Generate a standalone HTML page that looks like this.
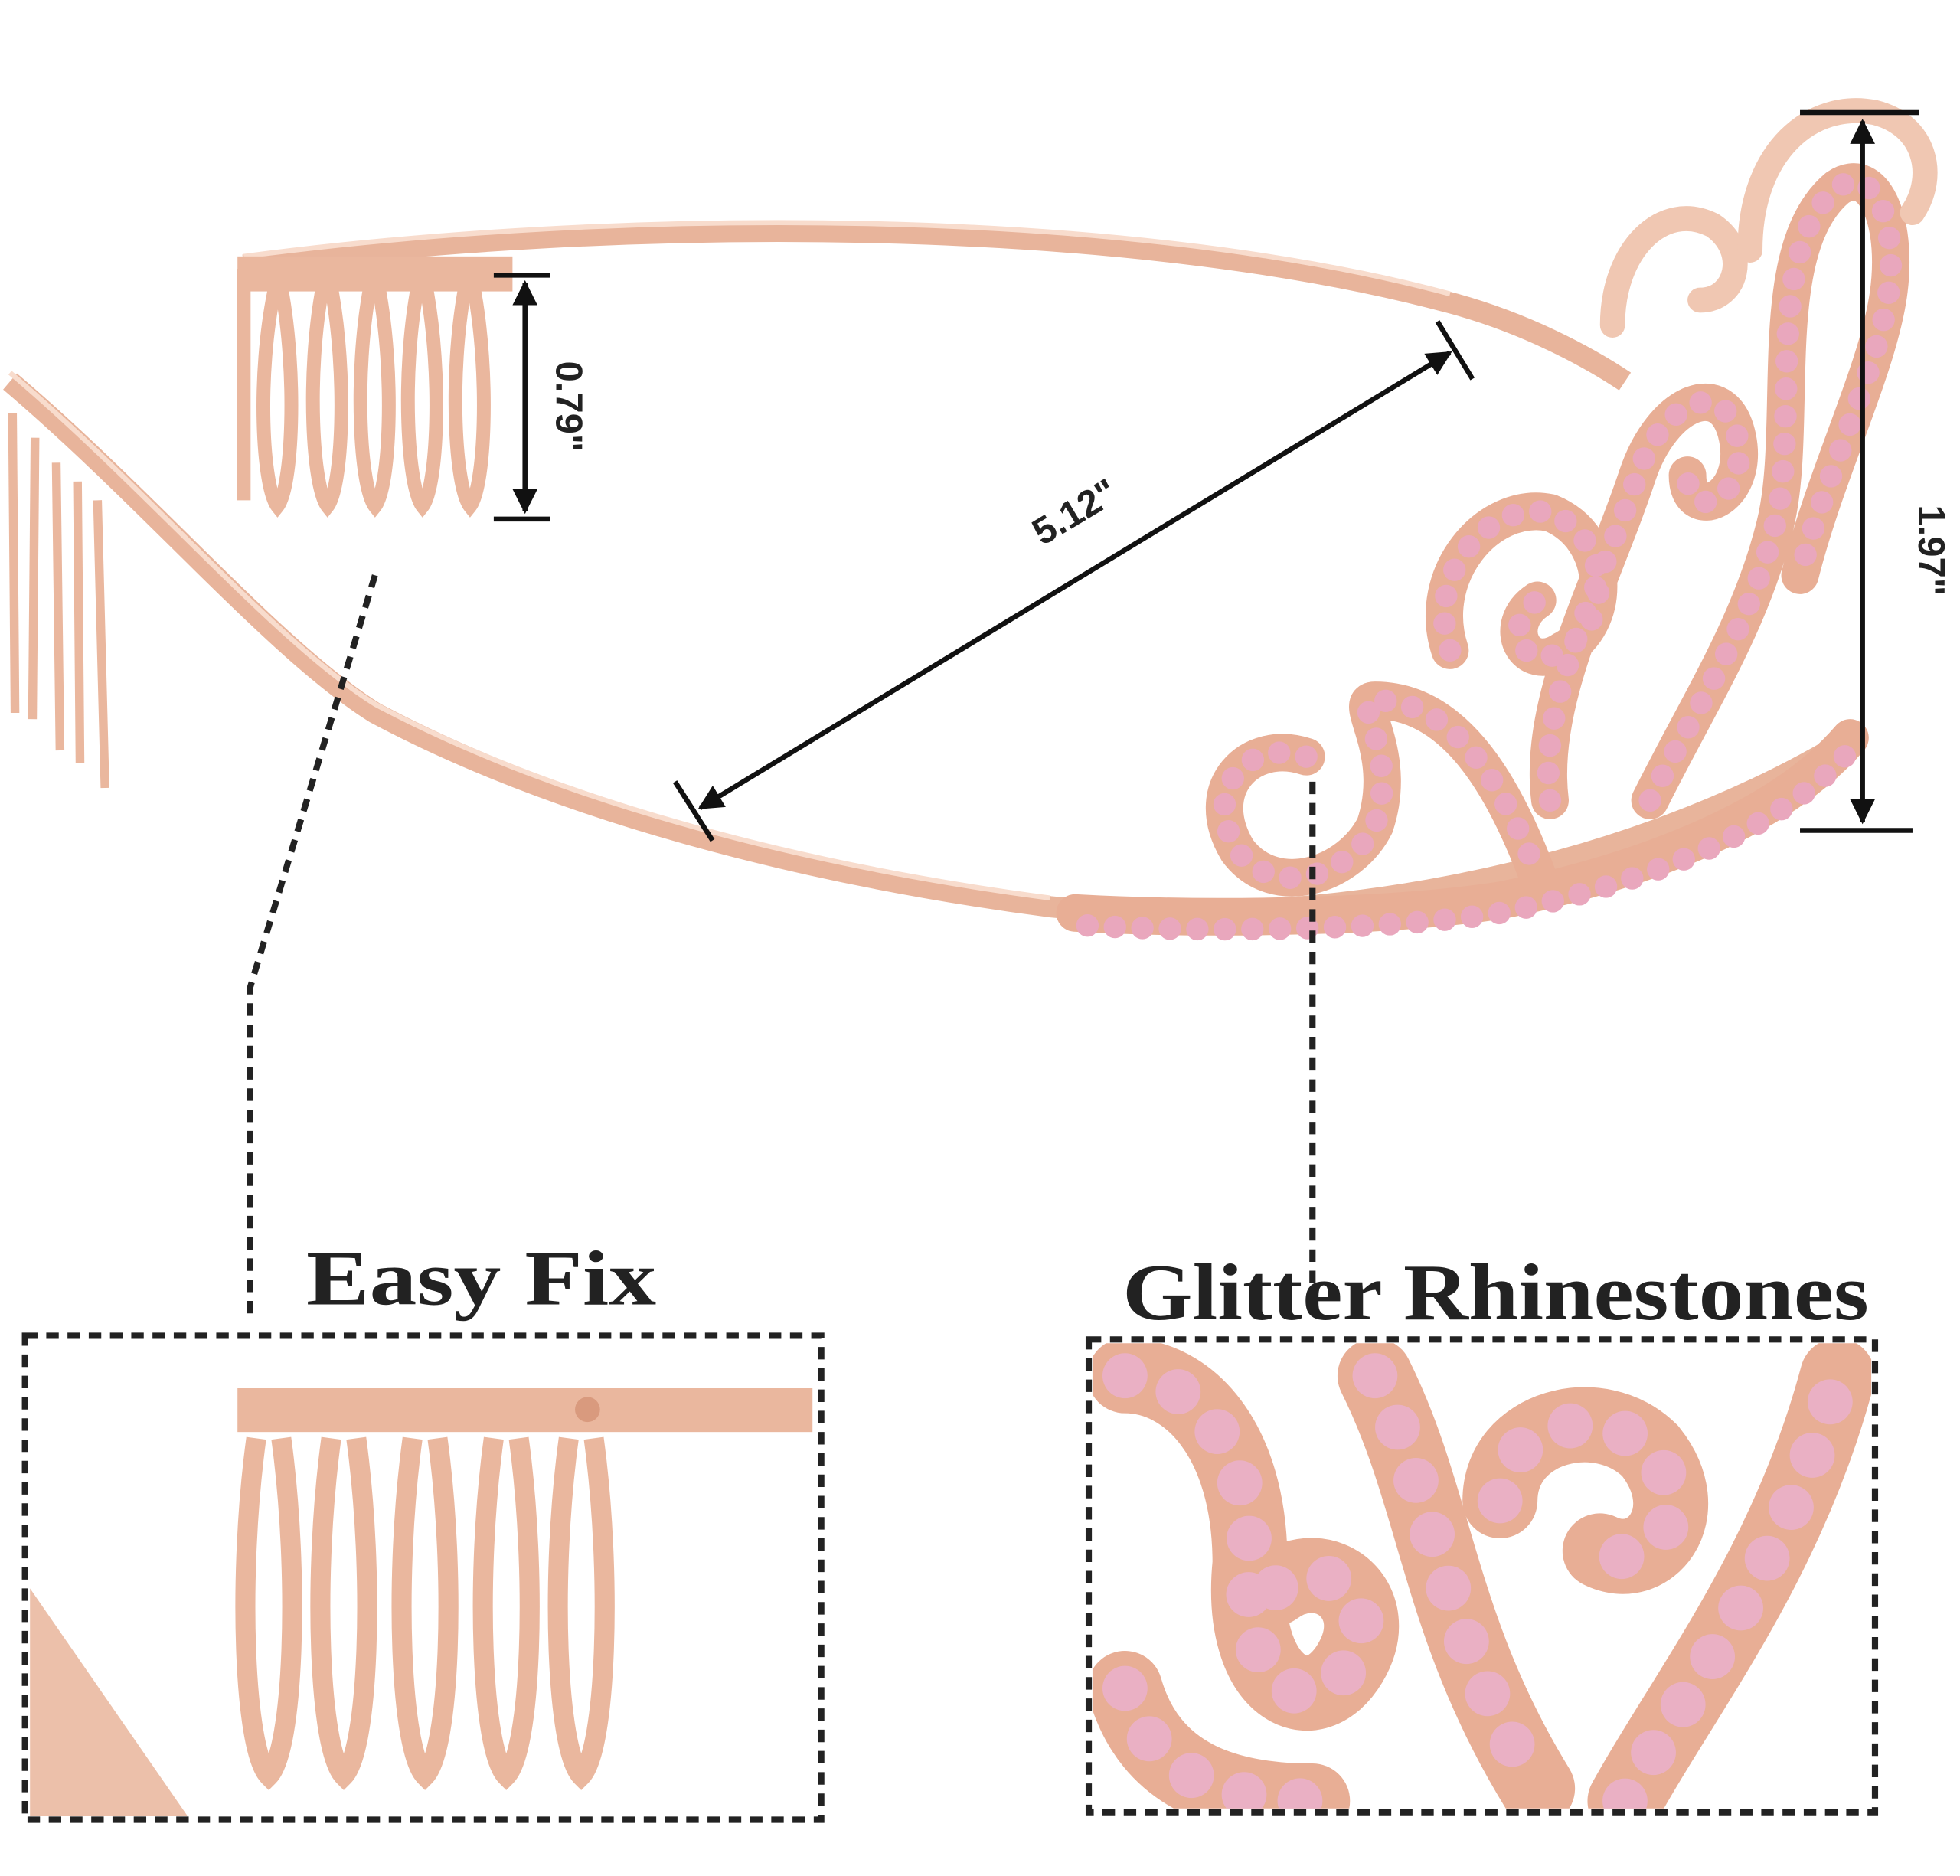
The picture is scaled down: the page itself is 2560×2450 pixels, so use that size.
<!DOCTYPE html>
<html><head><meta charset="utf-8"><style>
html,body{margin:0;padding:0;background:#fff;}
svg{display:block;}
</style></head><body>
<svg width="2560" height="2450" viewBox="0 0 1568 1500" preserveAspectRatio="none" xmlns="http://www.w3.org/2000/svg">
<defs>
<marker id="ah" viewBox="0 0 10 10" refX="9" refY="5" markerWidth="5" markerHeight="5" orient="auto-start-reverse">
<path d="M0,0 L10,5 L0,10 z" fill="#111"/>
</marker>
<clipPath id="cb2"><rect x="874" y="1074" width="623" height="372"/></clipPath>
</defs>
<rect width="1568" height="1500" fill="#fff"/>

<!-- upper band -->
<path d="M195,212 C500,172 900,172 1160,242 C1220,258 1270,285 1300,305" fill="none" stroke="#e8b49b" stroke-width="17"/>
<path d="M195,205 C500,165 900,165 1160,235" fill="none" stroke="#f8dccd" stroke-width="4"/>
<!-- upper comb -->
<g fill="none" stroke="#eab79e" stroke-width="11">
<path d="M195,215 L195,400"/>
<path d="M220,230 C205,300 210,390 222,405 C234,390 238,300 225,230"/>
<path d="M258,230 C245,300 250,390 262,405 C274,390 278,300 265,230"/>
<path d="M296,230 C283,300 288,390 300,405 C312,390 316,300 303,230"/>
<path d="M334,230 C321,300 326,390 338,405 C350,390 354,300 341,230"/>
<path d="M372,230 C359,300 364,390 376,405 C388,390 392,300 379,230"/>
</g>
<rect x="190" y="205" width="220" height="28" fill="#eab79e"/>

<!-- lower band -->
<path d="M8,305 C120,400 220,520 300,570 C450,650 650,700 840,725 C1050,745 1300,700 1480,590" fill="none" stroke="#e8b49b" stroke-width="17"/>
<path d="M8,298 C120,393 220,513 300,563 C450,643 650,693 840,718" fill="none" stroke="#f8dccd" stroke-width="4"/>
<!-- left comb -->
<g fill="none" stroke="#eab79e" stroke-width="7">
<path d="M10,330 L12,570"/><path d="M28,350 L26,575"/><path d="M45,370 L48,600"/><path d="M62,385 L64,610"/><path d="M78,400 L84,630"/>
</g>

<!-- tiara swirls -->
<g fill="none" stroke="#e8ae95" stroke-width="30" stroke-linecap="round">
<path d="M860,730 C950,735 1100,735 1200,720 C1300,700 1420,660 1480,590"/>
<path d="M1045,605 C1000,590 960,630 990,680 C1020,720 1080,700 1100,660 C1120,600 1080,560 1100,560 C1160,560 1200,620 1230,700"/>
<path d="M1160,520 C1140,460 1190,400 1240,410 C1290,430 1290,500 1250,520 C1220,540 1200,500 1230,480"/>
<path d="M1240,640 C1230,560 1280,470 1310,380 C1330,320 1380,300 1390,350 C1400,400 1350,420 1350,380"/>
<path d="M1320,640 C1360,560 1400,500 1420,420 C1440,340 1410,200 1470,150 C1500,130 1520,180 1510,240 C1500,300 1460,380 1440,460"/>
<path d="M1290,260 C1290,200 1330,160 1370,180 C1400,200 1390,240 1360,240" stroke="#f0c7b2" stroke-width="20"/>
<path d="M1400,200 C1400,120 1450,80 1500,90 C1540,100 1550,140 1530,170" stroke="#f0c7b2" stroke-width="20"/>
</g>
<g fill="none" stroke="#e9a7bd" stroke-width="18" stroke-linecap="round" stroke-dasharray="0 22">
<path d="M870,740 C950,745 1100,745 1200,730 C1300,710 1420,670 1480,600"/>
<path d="M1045,605 C1000,590 960,630 990,680 C1020,720 1080,700 1100,660 C1120,600 1080,560 1100,560 C1160,560 1200,620 1230,700"/>
<path d="M1160,520 C1140,460 1190,400 1240,410 C1290,430 1290,500 1250,520 C1220,540 1200,500 1230,480"/>
<path d="M1240,640 C1230,560 1280,470 1310,380 C1330,320 1380,300 1390,350 C1400,400 1350,420 1350,380"/>
<path d="M1320,640 C1360,560 1400,500 1420,420 C1440,340 1410,200 1470,150 C1500,130 1520,180 1510,240 C1500,300 1460,380 1440,460"/>
</g>

<!-- dimension arrows -->
<g stroke="#111" stroke-width="4" fill="none">
<line x1="395" y1="220" x2="440" y2="220"/><line x1="395" y1="415" x2="440" y2="415"/>
<line x1="420" y1="226" x2="420" y2="409" marker-start="url(#ah)" marker-end="url(#ah)"/>
<line x1="1440" y1="90" x2="1535" y2="90"/><line x1="1440" y1="664" x2="1530" y2="664"/>
<line x1="1490" y1="97" x2="1490" y2="657" marker-start="url(#ah)" marker-end="url(#ah)"/>
<line x1="540" y1="625" x2="570" y2="672"/><line x1="1150" y1="257" x2="1178" y2="303"/>
<line x1="560" y1="646" x2="1160" y2="282" marker-start="url(#ah)" marker-end="url(#ah)"/>
</g>
<g font-family="Liberation Sans, sans-serif" font-weight="bold" fill="#222" font-size="30">
<text transform="translate(445,325) rotate(90)" text-anchor="middle">0.79"</text>
<text transform="translate(1535,440) rotate(90)" text-anchor="middle">1.97"</text>
<text transform="translate(865,418) rotate(-31)" text-anchor="middle">5.12"</text>
</g>

<!-- leaders -->
<g stroke="#222" stroke-width="5" stroke-dasharray="10 7" fill="none">
<path d="M300,460 L200,790 L200,1055"/>
<path d="M1050,625 L1050,1030"/>
</g>

<!-- box1 content -->
<rect x="190" y="1110" width="460" height="35" fill="#eab79e"/>
<circle cx="470" cy="1127" r="10" fill="#d99a7e"/>
<g fill="none" stroke="#eab79e" stroke-width="16">
<path d="M205,1150 C190,1260 195,1400 215,1420 C235,1400 240,1260 225,1150"/>
<path d="M265,1150 C250,1260 255,1400 275,1420 C295,1400 300,1260 285,1150"/>
<path d="M330,1150 C315,1260 320,1400 340,1420 C360,1400 365,1260 350,1150"/>
<path d="M395,1150 C380,1260 385,1400 405,1420 C425,1400 430,1260 415,1150"/>
<path d="M455,1150 C440,1260 445,1400 465,1420 C485,1400 490,1260 475,1150"/>
</g>
<path d="M24,1270 L150,1452 L24,1452 z" fill="#ecc0aa"/>

<!-- box2 content -->
<g clip-path="url(#cb2)">
<g fill="none" stroke="#e8ae95" stroke-width="60" stroke-linecap="round">
<path d="M900,1100 C950,1100 1000,1150 1000,1250 C990,1350 1050,1380 1080,1330 C1110,1280 1060,1240 1020,1270"/>
<path d="M1100,1100 C1150,1200 1150,1300 1230,1430"/>
<path d="M1200,1200 C1200,1140 1280,1120 1320,1160 C1360,1210 1320,1260 1280,1240"/>
<path d="M1300,1440 C1350,1350 1430,1250 1470,1100"/>
<path d="M900,1350 C920,1420 980,1440 1050,1440"/>
</g>
<g fill="none" stroke="#eab0c4" stroke-width="36" stroke-linecap="round" stroke-dasharray="0 45">
<path d="M900,1100 C950,1100 1000,1150 1000,1250 C990,1350 1050,1380 1080,1330 C1110,1280 1060,1240 1020,1270"/>
<path d="M1100,1100 C1150,1200 1150,1300 1230,1430"/>
<path d="M1200,1200 C1200,1140 1280,1120 1320,1160 C1360,1210 1320,1260 1280,1240"/>
<path d="M1300,1440 C1350,1350 1430,1250 1470,1100"/>
<path d="M900,1350 C920,1420 980,1440 1050,1440"/>
</g>
</g>
<g stroke="#222" stroke-width="5" stroke-dasharray="10 7" fill="none">
<rect x="20" y="1068" width="637" height="387"/>
<rect x="871" y="1071" width="629" height="378"/>
</g>

<!-- titles -->
<g font-family="Liberation Serif, serif" font-weight="bold" fill="#222">
<text x="245" y="1043" font-size="62" textLength="280" lengthAdjust="spacingAndGlyphs">Easy Fix</text>
<text x="898" y="1055" font-size="64" textLength="597" lengthAdjust="spacingAndGlyphs">Glitter Rhinestones</text>
</g>
</svg>
</body></html>
